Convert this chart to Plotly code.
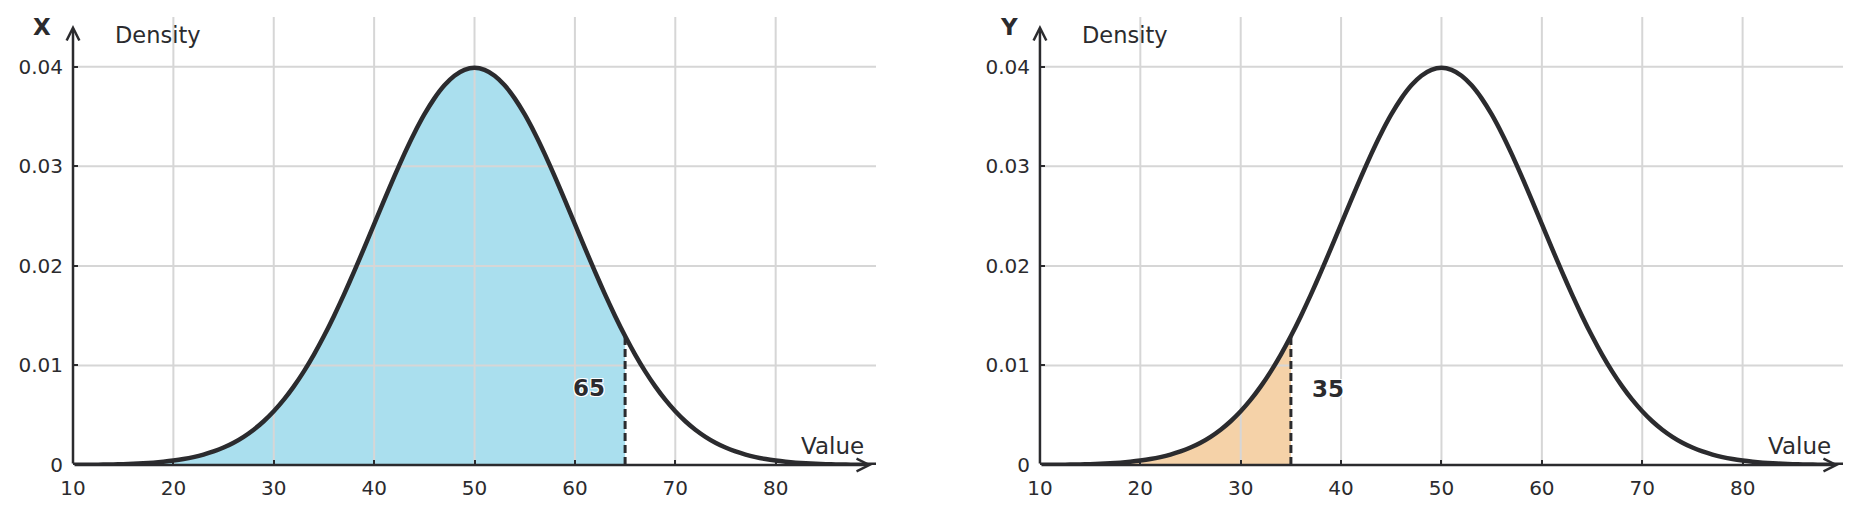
import plotly.graph_objects as go

# density curve (same curve in both panels), one point per unit
values = list(range(10, 91))
left_half = [0.0000134, 0.0000199, 0.0000292, 0.0000425, 0.0000612, 0.0000873, 0.000123,
             0.000172, 0.000238, 0.000327, 0.000443, 0.000595, 0.000792, 0.001042, 0.001358,
             0.001753, 0.002239, 0.002833, 0.003547, 0.004398, 0.005399, 0.006562, 0.007895,
             0.009405, 0.011092, 0.012952, 0.014973, 0.017137, 0.019419, 0.021785, 0.024197,
             0.026609, 0.028969, 0.031225, 0.033322, 0.035207, 0.036827, 0.038139, 0.039104,
             0.039695]
peak = 0.039894
density = left_half + [peak] + left_half[::-1]

panel_names = ["X", "Y"]
cutoffs = [65, 35]
fill_colors = ["#aadfee", "#f5d2a8"]
label_pos = [(61.4, 0.0077), (38.7, 0.0076)]

x_ticks = [10, 20, 30, 40, 50, 60, 70, 80]
y_ticks = [0, 0.01, 0.02, 0.03, 0.04]
y_ticktext = ["0", "0.01", "0.02", "0.03", "0.04"]

x_range = [10, 90]
y_range = [0, 0.045]

ink = "#2b2b2e"
grid = "#d6d6d6"
font = "DejaVu Sans"

# grid drawn as a trace so it sits over the shaded area but under the curve
grid_x, grid_y = [], []
for t in x_ticks[1:]:
    grid_x += [t, t, None]
    grid_y += [y_range[0], y_range[1], None]
for t in y_ticks[1:]:
    grid_x += [x_range[0], x_range[1], None]
    grid_y += [t, t, None]

fig = go.Figure()
annotations = []

for i, name in enumerate(panel_names):
    xa = "x" if i == 0 else "x2"
    ya = "y" if i == 0 else "y2"
    cut = cutoffs[i]
    xs = [v for v in values if v <= cut]
    ys = [density[values.index(v)] for v in xs]
    # shaded tail
    fig.add_trace(go.Scatter(x=xs, y=ys, mode="lines", line=dict(width=0, shape="spline", smoothing=0.6),
                             fill="tozeroy", fillcolor=fill_colors[i], xaxis=xa, yaxis=ya,
                             hoverinfo="skip", showlegend=False))
    fig.add_trace(go.Scatter(x=grid_x, y=grid_y, mode="lines", line=dict(color=grid, width=2),
                             xaxis=xa, yaxis=ya, hoverinfo="skip", showlegend=False))
    # dashed cutoff
    fig.add_trace(go.Scatter(x=[cut, cut], y=[0, density[values.index(cut)]], mode="lines",
                             line=dict(color=ink, width=3, dash="8px,4px"),
                             xaxis=xa, yaxis=ya, showlegend=False))
    # curve
    fig.add_trace(go.Scatter(x=values, y=density, mode="lines",
                             line=dict(color=ink, width=4.5, shape="spline", smoothing=0.6),
                             xaxis=xa, yaxis=ya, showlegend=False))

    # axes with arrows
    annotations.append(dict(x=89.6, y=0, ax=10, ay=0, xref=xa, yref=ya, axref=xa, ayref=ya,
                            showarrow=True, arrowhead=5, arrowsize=1.0, arrowwidth=2.5,
                            arrowcolor=ink, text=""))
    annotations.append(dict(x=10, y=0.0442, ax=10, ay=0, xref=xa, yref=ya, axref=xa, ayref=ya,
                            showarrow=True, arrowhead=5, arrowsize=1.0, arrowwidth=2.5,
                            arrowcolor=ink, text=""))
    # titles
    annotations.append(dict(x=-0.039, y=0.978, xref=xa + " domain", yref=ya + " domain",
                            text="<b>" + name + "</b>", showarrow=False, xanchor="center",
                            yanchor="middle", font=dict(family=font, size=23, color=ink)))
    annotations.append(dict(x=0.05, y=0.96, xref=xa + " domain", yref=ya + " domain",
                            text="Density", showarrow=False, xanchor="left", yanchor="middle",
                            font=dict(family=font, size=22.5, color=ink)))
    annotations.append(dict(x=0.9875, y=0.042, xref=xa + " domain", yref=ya + " domain",
                            text="Value", showarrow=False, xanchor="right", yanchor="middle",
                            font=dict(family=font, size=23, color=ink)))
    # cutoff label
    annotations.append(dict(x=label_pos[i][0], y=label_pos[i][1], xref=xa, yref=ya,
                            text="<b>" + str(cut) + "</b>", showarrow=False,
                            font=dict(family=font, size=23, color=ink,
                                      shadow="-1px -1px 0 white, 1px -1px 0 white, -1px 1px 0 white, 1px 1px 0 white")))

axis_x = dict(range=x_range, tickvals=x_ticks, ticks="inside", ticklen=5, tickwidth=2,
              tickcolor=ink, showgrid=False, zeroline=False, showline=False,
              ticklabelstandoff=9, tickfont=dict(family=font, size=20, color=ink))
axis_y = dict(range=y_range, tickvals=y_ticks, ticktext=y_ticktext, ticks="inside",
              ticklen=5, tickwidth=2, tickcolor=ink, showgrid=False, zeroline=False,
              showline=False, ticklabelstandoff=9,
              tickfont=dict(family=font, size=20, color=ink))

# page body has an 8px margin, so the figure is 16px smaller than the window
fig.update_layout(
    width=1845, height=501,
    margin=dict(l=65, r=10, t=9, b=42),
    plot_bgcolor="white", paper_bgcolor="white",
    xaxis=dict(axis_x, domain=[0, 0.4537], anchor="y"),
    yaxis=dict(axis_y, anchor="x"),
    xaxis2=dict(axis_x, domain=[0.5463, 1], anchor="y2"),
    yaxis2=dict(axis_y, anchor="x2"),
    annotations=annotations,
)

fig.write_html("out.html")
